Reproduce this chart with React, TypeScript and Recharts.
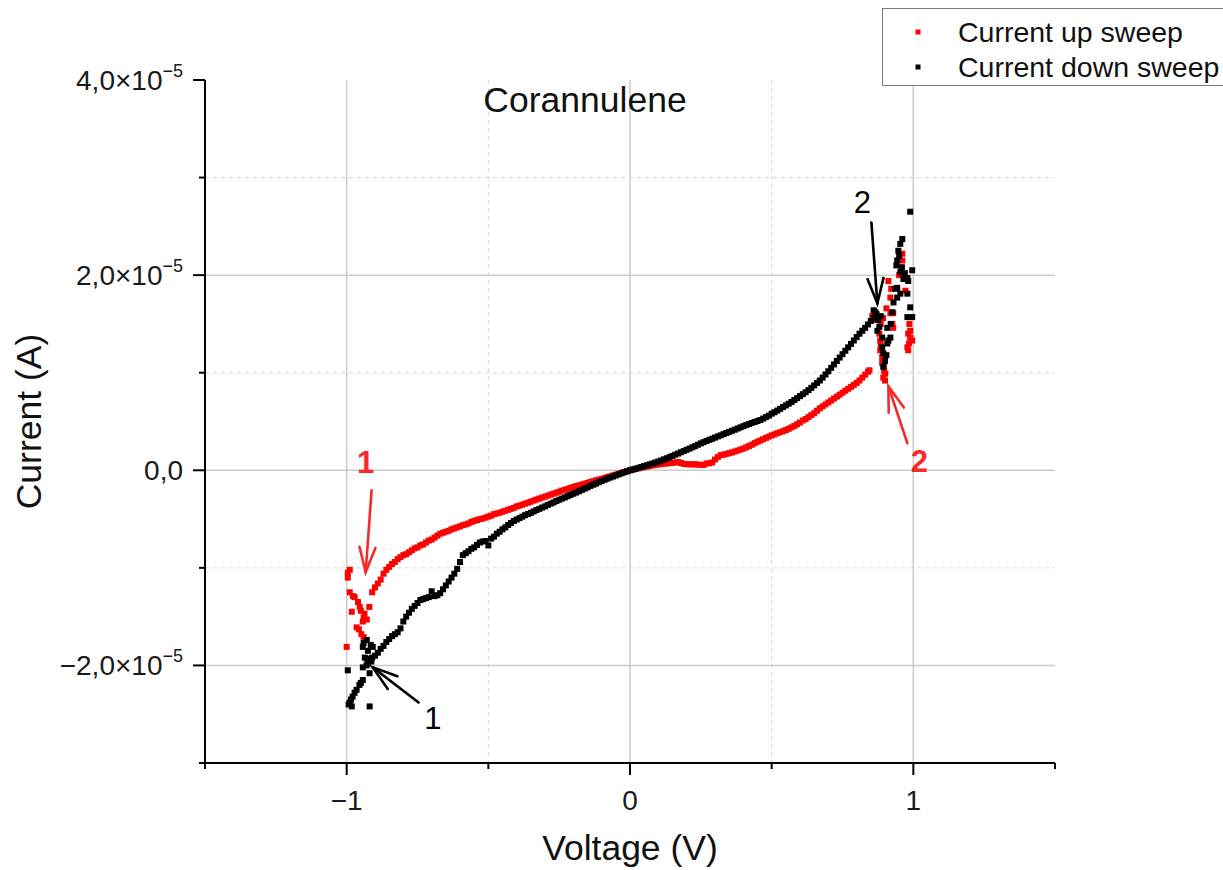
import React from "react";
import {
  CartesianGrid,
  ReferenceDot,
  ReferenceLine,
  Scatter,
  ScatterChart,
  XAxis,
  YAxis,
} from "recharts";

// Voltage in V, current in µA (the axis prints it in A, ×10⁻⁵)
const UP_SWEEP_MAIN: [number, number][] = [
  [-0.92, -14.0], [-0.91, -12.5], [-0.9, -12.0], [-0.89, -11.6], [-0.88, -11.2], [-0.87, -10.6], [-0.86, -10.2], [-0.85, -9.9], [-0.84, -9.6], [-0.83, -9.4],
  [-0.82, -9.1], [-0.81, -8.9], [-0.8, -8.7], [-0.79, -8.6], [-0.78, -8.4], [-0.77, -8.2], [-0.76, -8.0], [-0.75, -7.9], [-0.74, -7.7], [-0.73, -7.6],
  [-0.72, -7.4], [-0.71, -7.2], [-0.7, -7.1], [-0.69, -6.9], [-0.68, -6.7], [-0.67, -6.5], [-0.66, -6.4], [-0.65, -6.3], [-0.64, -6.2], [-0.63, -6.05],
  [-0.62, -5.95], [-0.61, -5.85], [-0.6, -5.75], [-0.59, -5.63], [-0.58, -5.55], [-0.57, -5.45], [-0.56, -5.3], [-0.55, -5.2], [-0.54, -5.1], [-0.53, -5.0],
  [-0.52, -4.95], [-0.51, -4.85], [-0.5, -4.75], [-0.49, -4.65], [-0.48, -4.5], [-0.47, -4.43], [-0.46, -4.35], [-0.45, -4.25], [-0.44, -4.15], [-0.43, -4.05],
  [-0.42, -3.95], [-0.41, -3.85], [-0.4, -3.7], [-0.39, -3.62], [-0.38, -3.52], [-0.37, -3.42], [-0.36, -3.32], [-0.35, -3.22], [-0.34, -3.1], [-0.33, -3.0],
  [-0.32, -2.9], [-0.31, -2.8], [-0.3, -2.7], [-0.29, -2.6], [-0.28, -2.5], [-0.27, -2.4], [-0.26, -2.3], [-0.25, -2.2], [-0.24, -2.08], [-0.23, -2.0],
  [-0.22, -1.9], [-0.21, -1.8], [-0.2, -1.7], [-0.19, -1.62], [-0.18, -1.55], [-0.17, -1.47], [-0.16, -1.38], [-0.15, -1.3], [-0.14, -1.2], [-0.13, -1.12],
  [-0.12, -1.03], [-0.11, -0.95], [-0.1, -0.88], [-0.09, -0.8], [-0.08, -0.7], [-0.07, -0.62], [-0.06, -0.53], [-0.05, -0.45], [-0.04, -0.36], [-0.03, -0.27],
  [-0.02, -0.18], [-0.01, -0.09], [0, 0], [0.01, 0.07], [0.02, 0.14], [0.03, 0.2], [0.04, 0.27], [0.05, 0.33], [0.06, 0.38], [0.07, 0.44],
  [0.08, 0.5], [0.09, 0.55], [0.1, 0.6], [0.11, 0.64], [0.12, 0.68], [0.13, 0.7], [0.14, 0.73], [0.15, 0.75], [0.16, 0.8], [0.17, 0.85],
  [0.18, 0.75], [0.19, 0.65], [0.2, 0.62], [0.21, 0.62], [0.22, 0.6], [0.23, 0.62], [0.24, 0.58], [0.25, 0.55], [0.26, 0.55], [0.27, 0.7],
  [0.28, 0.72], [0.29, 0.8], [0.3, 1.1], [0.31, 1.35], [0.32, 1.55], [0.33, 1.6], [0.34, 1.68], [0.35, 1.75], [0.36, 1.83], [0.37, 1.92],
  [0.38, 2.02], [0.39, 2.12], [0.4, 2.22], [0.41, 2.35], [0.42, 2.48], [0.43, 2.62], [0.44, 2.78], [0.45, 2.92], [0.46, 3.05], [0.47, 3.18],
  [0.48, 3.32], [0.49, 3.45], [0.5, 3.58], [0.51, 3.68], [0.52, 3.8], [0.53, 3.9], [0.54, 4.0], [0.55, 4.12], [0.56, 4.25], [0.57, 4.4],
  [0.58, 4.55], [0.59, 4.72], [0.6, 4.9], [0.61, 5.1], [0.62, 5.25], [0.63, 5.45], [0.64, 5.65], [0.65, 5.85], [0.66, 6.1], [0.67, 6.35],
  [0.68, 6.55], [0.69, 6.75], [0.7, 6.95], [0.71, 7.15], [0.72, 7.35], [0.73, 7.55], [0.74, 7.75], [0.75, 7.95], [0.76, 8.15], [0.77, 8.35],
  [0.78, 8.55], [0.79, 8.75], [0.8, 8.95], [0.81, 9.2], [0.82, 9.5], [0.83, 9.8], [0.84, 10.1], [0.845, 10.25],
];

// noisy points near the ±1 V turning points
const UP_SWEEP_ENDS: [number, number][] = [
  [-0.929, -15.3], [-0.943, -15.5], [-0.954, -14.0], [-0.972, -13.0], [-0.989, -12.5], [-0.996, -10.5], [-0.989, -10.2], [-0.982, -14.5],
  [-0.965, -16.1], [-0.957, -16.3], [-0.996, -11.0], [-0.978, -12.9], [-0.96, -13.5], [-0.95, -14.4], [-0.94, -15.1], [-0.937, -14.7],
  [-0.948, -16.8], [-1.0, -18.1], [-0.94, -17.1],
  [0.855, 15.8], [0.862, 16.1], [0.87, 15.4], [0.883, 13.3], [0.883, 12.3], [0.89, 11.6], [0.896, 10.6], [0.901, 9.9], [0.9, 9.2],
  [0.894, 9.5], [0.912, 19.4], [0.919, 17.7], [0.929, 16.1], [0.926, 15.0], [0.919, 16.1], [0.929, 14.6], [0.961, 22.2], [0.961, 21.5],
  [0.958, 20.8], [0.972, 18.4], [0.982, 14.0], [0.982, 12.3], [0.989, 13.6], [0.979, 12.6], [0.989, 14.3], [0.996, 13.3], [0.985, 13.0],
  [0.905, 16.6], [0.95, 20.0], [0.88, 14.0], [0.885, 12.9], [0.89, 11.0], [0.897, 10.2], [0.885, 15.0], [0.893, 15.6], [0.922, 18.6],
  [0.986, 15.0],
];

const DOWN_SWEEP_MAIN: [number, number][] = [
  [-0.92, -19.4], [-0.91, -19.2], [-0.9, -19.0], [-0.89, -18.7], [-0.88, -18.3], [-0.87, -18.0], [-0.86, -17.6], [-0.85, -17.3], [-0.84, -17.0], [-0.83, -16.8],
  [-0.82, -16.6], [-0.81, -16.2], [-0.8, -15.5], [-0.79, -15.0], [-0.78, -14.6], [-0.77, -14.2], [-0.76, -13.9], [-0.75, -13.6], [-0.74, -13.3], [-0.73, -13.2],
  [-0.72, -13.1], [-0.71, -13.0], [-0.7, -12.4], [-0.69, -12.9], [-0.68, -12.8], [-0.67, -12.6], [-0.66, -12.2], [-0.65, -11.8], [-0.64, -11.4], [-0.63, -11.0],
  [-0.62, -10.6], [-0.61, -10.1], [-0.6, -9.4], [-0.59, -8.7], [-0.58, -8.5], [-0.57, -8.3], [-0.56, -8.05], [-0.55, -7.9], [-0.54, -7.65], [-0.53, -7.4],
  [-0.52, -7.3], [-0.51, -7.25], [-0.5, -7.7], [-0.49, -7.0], [-0.48, -6.8], [-0.47, -6.5], [-0.46, -6.3], [-0.45, -6.05], [-0.44, -5.85], [-0.43, -5.6],
  [-0.42, -5.4], [-0.41, -5.2], [-0.4, -5.05], [-0.39, -4.9], [-0.38, -4.75], [-0.37, -4.6], [-0.36, -4.48], [-0.35, -4.36], [-0.34, -4.22], [-0.33, -4.08],
  [-0.32, -3.95], [-0.31, -3.82], [-0.3, -3.7], [-0.29, -3.55], [-0.28, -3.42], [-0.27, -3.3], [-0.26, -3.15], [-0.25, -3.02], [-0.24, -2.9], [-0.23, -2.78],
  [-0.22, -2.65], [-0.21, -2.52], [-0.2, -2.4], [-0.19, -2.28], [-0.18, -2.15], [-0.17, -2.02], [-0.16, -1.88], [-0.15, -1.75], [-0.14, -1.6], [-0.13, -1.48],
  [-0.12, -1.36], [-0.11, -1.22], [-0.1, -1.1], [-0.09, -0.98], [-0.08, -0.86], [-0.07, -0.75], [-0.06, -0.64], [-0.05, -0.53], [-0.04, -0.42], [-0.03, -0.31],
  [-0.02, -0.2], [-0.01, -0.1], [0, 0], [0.01, 0.08], [0.02, 0.16], [0.03, 0.25], [0.04, 0.34], [0.05, 0.43], [0.06, 0.52], [0.07, 0.61],
  [0.08, 0.7], [0.09, 0.8], [0.1, 0.9], [0.11, 1.0], [0.12, 1.12], [0.13, 1.23], [0.14, 1.35], [0.15, 1.47], [0.16, 1.6], [0.17, 1.72],
  [0.18, 1.85], [0.19, 1.98], [0.2, 2.1], [0.21, 2.22], [0.22, 2.35], [0.23, 2.48], [0.24, 2.62], [0.25, 2.76], [0.26, 2.88], [0.27, 3.0],
  [0.28, 3.12], [0.29, 3.23], [0.3, 3.35], [0.31, 3.47], [0.32, 3.58], [0.33, 3.7], [0.34, 3.82], [0.35, 3.94], [0.36, 4.05], [0.37, 4.16],
  [0.38, 4.28], [0.39, 4.4], [0.4, 4.52], [0.41, 4.63], [0.42, 4.74], [0.43, 4.85], [0.44, 4.95], [0.45, 5.05], [0.46, 5.15], [0.47, 5.3],
  [0.48, 5.45], [0.49, 5.6], [0.5, 5.8], [0.51, 5.95], [0.52, 6.12], [0.53, 6.3], [0.54, 6.48], [0.55, 6.65], [0.56, 6.82], [0.57, 7.0],
  [0.58, 7.2], [0.59, 7.4], [0.6, 7.6], [0.61, 7.8], [0.62, 8.0], [0.63, 8.22], [0.64, 8.45], [0.65, 8.7], [0.66, 8.95], [0.67, 9.2],
  [0.68, 9.5], [0.69, 9.82], [0.7, 10.15], [0.71, 10.5], [0.72, 10.85], [0.73, 11.2], [0.74, 11.55], [0.75, 11.9], [0.76, 12.25], [0.77, 12.6],
  [0.78, 12.95], [0.79, 13.3], [0.8, 13.65], [0.81, 14.0], [0.82, 14.3], [0.83, 14.6], [0.84, 14.95], [0.85, 15.3], [0.86, 15.6], [0.866, 16.2],
];

const DOWN_SWEEP_ENDS: [number, number][] = [
  [-0.929, -19.3], [-0.936, -19.2], [-0.943, -18.1], [-0.929, -17.4], [-0.908, -18.1], [-0.943, -20.2], [-0.919, -20.8], [-0.943, -21.5],
  [-0.965, -22.5], [-0.979, -23.2], [-0.989, -23.8], [-0.982, -24.2], [-0.996, -20.5], [-0.919, -24.2], [-0.93, -20.0], [-0.95, -21.8],
  [-0.955, -22.0], [-0.972, -22.8], [-0.993, -24.0], [-0.985, -23.5], [-0.925, -19.8], [-0.913, -19.6], [-0.94, -17.7], [-0.925, -18.5],
  [-0.915, -17.9],
  [0.87, 16.0], [0.876, 15.4], [0.88, 14.7], [0.873, 14.3], [0.89, 13.6], [0.908, 14.6], [0.919, 13.6], [0.908, 13.0], [0.89, 12.6],
  [0.894, 12.0], [0.9, 11.2], [0.894, 10.6], [0.905, 11.8], [0.926, 16.2], [0.936, 18.6], [0.943, 21.5], [0.947, 22.5], [0.954, 23.2],
  [0.961, 23.7], [0.954, 20.3], [0.996, 20.5], [0.979, 19.7], [0.979, 18.1], [0.989, 16.7], [0.979, 15.7], [0.989, 26.5], [0.943, 18.7],
  [0.954, 18.1], [0.943, 17.7], [0.982, 19.4], [0.996, 15.7], [0.93, 17.2], [0.965, 19.6], [0.94, 21.0], [0.95, 22.0], [0.92, 15.0],
  [0.912, 13.3], [0.96, 20.8], [0.97, 20.2], [0.885, 15.8], [0.86, 16.4],
];

const VOLTAGE_TICKS = [-1.5, -1, -0.5, 0, 0.5, 1, 1.5];
const VOLTAGE_LABELED = [-1, 0, 1];
const CURRENT_TICKS = [-30, -20, -10, 0, 10, 20, 30, 40];
const CURRENT_LABELED = [-20, 0, 20, 40];

const RED = "#ff0000";
const BLACK = "#000000";
const NOTE_RED = "#f52a2a";
const FONT = "'Liberation Sans', Arial, sans-serif";

const SERIES = [
  { name: "Current up sweep", color: RED, rows: [...UP_SWEEP_MAIN, ...UP_SWEEP_ENDS] },
  { name: "Current down sweep", color: BLACK, rows: [...DOWN_SWEEP_MAIN, ...DOWN_SWEEP_ENDS] },
];

// numbered arrows: label position, arrow tail, arrow tip (V, µA)
const NOTES = [
  { text: "1", color: NOTE_RED, bold: true, at: [-0.933, 0.82], from: [-0.912, -2.05], to: [-0.933, -10.45] },
  { text: "1", color: BLACK, bold: false, at: [-0.696, -25.4], from: [-0.746, -23.8], to: [-0.908, -20.2] },
  { text: "2", color: BLACK, bold: false, at: [0.82, 27.5], from: [0.852, 25.4], to: [0.873, 17.1] },
  { text: "2", color: NOTE_RED, bold: true, at: [1.021, 1.0], from: [0.979, 2.77], to: [0.912, 8.6] },
];

const W = 1223;
const H = 870;
const MARK = 6;

const toPoints = (rows: [number, number][]) => rows.map(([v, i]) => ({ v, i }));

function formatVoltage(v: number) {
  return v < 0 ? `\u2212${Math.abs(v)}` : `${v}`;
}

function VoltageTick({ x, y, payload }: any) {
  const major = VOLTAGE_LABELED.includes(payload.value);
  return (
    <g>
      <line x1={x} y1={y} x2={x} y2={y + (major ? 12 : 6)} stroke="#000" strokeWidth={2} />
      {major && (
        <text x={x} y={y + 47} textAnchor="middle" fontSize={28} fill="#1a1a1a" fontFamily={FONT}>
          {formatVoltage(payload.value)}
        </text>
      )}
    </g>
  );
}

function CurrentTick({ x, y, payload }: any) {
  const c: number = payload.value;
  const major = CURRENT_LABELED.includes(c);
  const mant = (Math.abs(c) / 10).toFixed(1).replace(".", ",");
  const sign = c < 0 ? "\u2212" : "";
  return (
    <g>
      <line x1={x} y1={y} x2={x - (major ? 12 : 6)} y2={y} stroke="#000" strokeWidth={2} />
      {major && (
        <text x={x - 22} y={y + 10} textAnchor="end" fontSize={28} fill="#1a1a1a" fontFamily={FONT}>
          {c === 0 ? mant : `${sign}${mant}\u00d710`}
          {c !== 0 && (
            <tspan dy={-13} fontSize={18}>
              {"\u22125"}
            </tspan>
          )}
        </text>
      )}
    </g>
  );
}

const squareShape = (color: string) => (p: any) =>
  <rect x={p.cx - MARK / 2} y={p.cy - MARK / 2} width={MARK} height={MARK} fill={color} />;

function NoteArrow(props: any) {
  const { x1, y1, x2, y2, stroke } = props;
  const dx = x2 - x1;
  const dy = y2 - y1;
  const len = Math.hypot(dx, dy) || 1;
  const ux = dx / len;
  const uy = dy / len;
  const hx = x2 - ux * 25;
  const hy = y2 - uy * 25;
  const px = -uy * 8;
  const py = ux * 8;
  return (
    <g stroke={stroke} strokeWidth={2.6} fill="none" strokeLinecap="round">
      <line x1={x1} y1={y1} x2={x2} y2={y2} />
      <polyline points={`${hx + px},${hy + py} ${x2},${y2} ${hx - px},${hy - py}`} />
    </g>
  );
}

const noteText = (text: string, color: string, bold: boolean) => (p: any) =>
  (
    <text
      x={p.cx}
      y={p.cy}
      dy="0.36em"
      textAnchor="middle"
      fontSize={31}
      fontWeight={bold ? "bold" : "normal"}
      fill={color}
      fontFamily={FONT}
    >
      {text}
    </text>
  );

const voltageTitle = ({ viewBox }: any) => (
  <text x={viewBox.x + viewBox.width / 2} y={viewBox.y + 97} textAnchor="middle" fontSize={35.5} fill="#111" fontFamily={FONT}>
    Voltage (V)
  </text>
);

const currentTitle = ({ viewBox }: any) => {
  const cx = 41;
  const cy = viewBox.y + viewBox.height / 2;
  return (
    <text x={cx} y={cy} transform={`rotate(-90 ${cx} ${cy})`} textAnchor="middle" fontSize={35.5} fill="#111" fontFamily={FONT}>
      Current (A)
    </text>
  );
};

export default function App() {
  return (
    <div style={{ position: "absolute", left: 0, top: 0, width: W, height: H, overflow: "hidden", background: "#fff" }}>
      <ScatterChart width={W} height={H} margin={{ top: 80, right: 168, bottom: 0, left: 0 }}>
        <CartesianGrid horizontalValues={[-10, 10, 30]} verticalValues={[-0.5, 0.5]} stroke="#d6d6d6" strokeDasharray="4 4" />
        <CartesianGrid horizontalValues={[-20, 0, 20]} verticalValues={[-1, 0, 1]} stroke="#cbcbcb" strokeWidth={1.5} />
        <XAxis
          type="number"
          dataKey="v"
          domain={[-1.5, 1.5]}
          ticks={VOLTAGE_TICKS}
          interval={0}
          height={107}
          tickSize={0}
          tickMargin={0}
          tickLine={false}
          axisLine={{ stroke: "#000", strokeWidth: 2 }}
          tick={VoltageTick}
          label={{ content: voltageTitle }}
        />
        <YAxis
          type="number"
          dataKey="i"
          domain={[-30, 40]}
          ticks={CURRENT_TICKS}
          interval={0}
          width={205}
          tickSize={0}
          tickMargin={0}
          tickLine={false}
          axisLine={{ stroke: "#000", strokeWidth: 2 }}
          tick={CurrentTick}
          label={{ content: currentTitle }}
        />
        {SERIES.map((s) => (
          <Scatter
            key={s.name}
            name={s.name}
            data={toPoints(s.rows)}
            fill={s.color}
            shape={squareShape(s.color)}
            isAnimationActive={false}
          />
        ))}
        {NOTES.map((n, k) => (
          <ReferenceLine
            key={`arrow-${k}`}
            segment={[
              { x: n.from[0], y: n.from[1] },
              { x: n.to[0], y: n.to[1] },
            ]}
            stroke={n.color}
            shape={NoteArrow}
          />
        ))}
        {NOTES.map((n, k) => (
          <ReferenceDot key={`label-${k}`} x={n.at[0]} y={n.at[1]} r={0} shape={noteText(n.text, n.color, n.bold)} />
        ))}
      </ScatterChart>
      <svg width={W} height={H} style={{ position: "absolute", left: 0, top: 0, pointerEvents: "none" }}>
        <text x={585} y={112} textAnchor="middle" fontSize={35.5} fill="#111" fontFamily={FONT}>
          Corannulene
        </text>
        <rect x={882.5} y={8.5} width={400} height={77} fill="#fff" stroke="#7d7d7d" />
        {SERIES.map((s, k) => (
          <g key={s.name}>
            <rect x={915.5} y={29.5 + k * 35} width={5} height={5} fill={s.color} />
            <text x={958} y={42 + k * 35} fontSize={28.5} fill="#111" fontFamily={FONT}>
              {s.name}
            </text>
          </g>
        ))}
      </svg>
    </div>
  );
}
